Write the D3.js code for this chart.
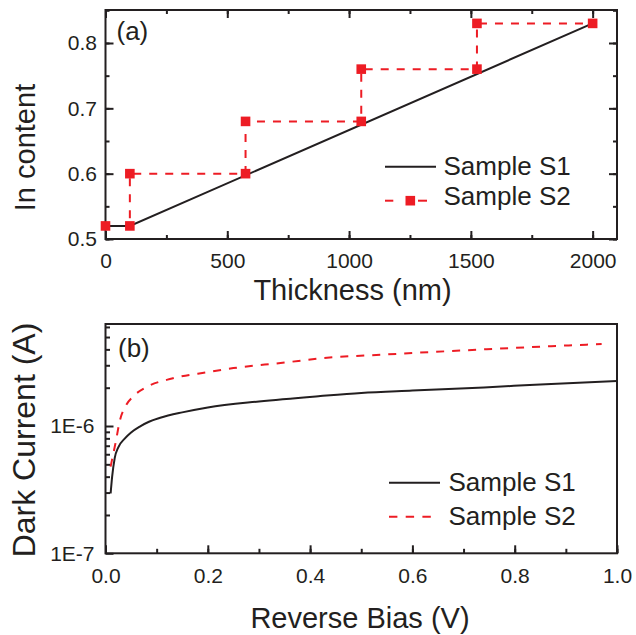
<!DOCTYPE html>
<html>
<head>
<meta charset="utf-8">
<script src="https://cdn.jsdelivr.net/npm/d3@7"></script>
<style>
  html, body { margin: 0; padding: 0; background: #fff; }
  svg { display: block; font-family: "Liberation Sans", Arial, Helvetica, sans-serif; }
</style>
</head>
<body>
<svg id="chart" width="636" height="635"></svg>
<script>
// ---------- Data: panel (a) ----------
const thicknessS1 = [0, 100, 2000];
const contentS1   = [0.52, 0.52, 0.83];
const thicknessS2 = [0, 100, 100, 575, 575, 1050, 1050, 1525, 1525, 2000];
const contentS2   = [0.52, 0.52, 0.60, 0.60, 0.68, 0.68, 0.76, 0.76, 0.83, 0.83];
const thicknessTicks = [0, 500, 1000, 1500, 2000];
const contentTicks = [0.5, 0.6, 0.7, 0.8];

// ---------- Data: panel (b) ----------
const biasS1 = [0.01, 0.013, 0.018, 0.025, 0.038, 0.05, 0.067, 0.085, 0.107, 0.15, 0.2, 0.3, 0.42, 0.5, 0.6, 0.74, 0.85, 1.0];
const currentS1 = [2.95e-7, 4.0e-7, 5.6e-7, 6.8e-7, 8.0e-7, 8.9e-7, 9.9e-7, 1.08e-6, 1.16e-6, 1.28e-6, 1.40e-6, 1.56e-6, 1.72e-6, 1.82e-6, 1.90e-6, 2.01e-6, 2.12e-6, 2.26e-6];
const biasS2 = [0.01, 0.015, 0.02, 0.028, 0.04, 0.055, 0.08, 0.13, 0.2, 0.25, 0.35, 0.42, 0.55, 0.74, 0.85, 0.97];
const currentS2 = [4.8e-7, 6.0e-7, 7.5e-7, 1.1e-6, 1.45e-6, 1.72e-6, 2.02e-6, 2.36e-6, 2.65e-6, 2.85e-6, 3.15e-6, 3.40e-6, 3.65e-6, 4.0e-6, 4.2e-6, 4.41e-6];
const biasTicks = [0, 0.2, 0.4, 0.6, 0.8, 1.0];
const currentTicks = [1e-7, 1e-6];
const currentTickLabels = ["1E-7", "1E-6"];

const seriesNames = ["Sample S1", "Sample S2"];

const BLACK = "#231f20", RED = "#ed1c24";
const TICK_FONT = 21, TITLE_FONT = 29, LEGEND_FONT = 26;

const svg = d3.select("#chart");
svg.append("rect").attr("width", 636).attr("height", 635).attr("fill", "#fff");

// ================= Panel (a) =================
const A = { left: 105.5, right: 617, top: 10, bottom: 239 };
const xA = d3.scaleLinear().domain([0, 2100]).range([A.left, A.right]);
const yA = d3.scaleLinear().domain([0.5, 0.8505]).range([A.bottom, A.top]);

const gA = svg.append("g");

function styleAxis(g) {
  g.select(".domain").remove();
  g.selectAll(".tick line").attr("stroke", BLACK).attr("stroke-width", 2);
  g.selectAll("text").attr("fill", BLACK).attr("font-size", TICK_FONT).attr("font-family", "Liberation Sans, Arial, sans-serif");
}

const minorA_x = d3.range(0, 2101, 250);
const minorA_y = d3.range(0.5, 0.851, 0.05);

// bottom
gA.append("g").attr("transform", `translate(0,${A.bottom})`)
  .call(d3.axisBottom(xA).tickValues(minorA_x).tickSize(-4).tickFormat("")).call(styleAxis);
gA.append("g").attr("transform", `translate(0,${A.bottom})`)
  .call(d3.axisBottom(xA).tickValues(thicknessTicks).tickSize(-8).tickPadding(14).tickFormat(d3.format("d"))).call(styleAxis);
// top
gA.append("g").attr("transform", `translate(0,${A.top})`)
  .call(d3.axisTop(xA).tickValues(minorA_x).tickSize(-4).tickFormat("")).call(styleAxis);
gA.append("g").attr("transform", `translate(0,${A.top})`)
  .call(d3.axisTop(xA).tickValues(thicknessTicks).tickSize(-8).tickFormat("")).call(styleAxis);
// left
gA.append("g").attr("transform", `translate(${A.left},0)`)
  .call(d3.axisLeft(yA).tickValues(minorA_y).tickSize(-4).tickFormat("")).call(styleAxis);
gA.append("g").attr("transform", `translate(${A.left},0)`)
  .call(d3.axisLeft(yA).tickValues(contentTicks).tickSize(-8).tickPadding(8.5).tickFormat(d3.format(".1f"))).call(styleAxis);
// right
gA.append("g").attr("transform", `translate(${A.right},0)`)
  .call(d3.axisRight(yA).tickValues(minorA_y).tickSize(-4).tickFormat("")).call(styleAxis);
gA.append("g").attr("transform", `translate(${A.right},0)`)
  .call(d3.axisRight(yA).tickValues(contentTicks).tickSize(-8).tickFormat("")).call(styleAxis);

// frame
gA.append("rect").attr("x", A.left).attr("y", A.top)
  .attr("width", A.right - A.left).attr("height", A.bottom - A.top)
  .attr("fill", "none").attr("stroke", BLACK).attr("stroke-width", 2);

// lines
const lineA = d3.line().x(d => xA(d[0])).y(d => yA(d[1]));
const s1A = thicknessS1.map((t, i) => [t, contentS1[i]]);
const s2A = thicknessS2.map((t, i) => [t, contentS2[i]]);

gA.append("path").attr("d", lineA(s2A)).attr("fill", "none")
  .attr("stroke", RED).attr("stroke-width", 2).attr("stroke-dasharray", "8,8");
gA.append("path").attr("d", lineA(s1A)).attr("fill", "none")
  .attr("stroke", BLACK).attr("stroke-width", 2);
gA.selectAll("rect.mk").data(s2A).enter().append("rect").attr("class", "mk")
  .attr("x", d => xA(d[0]) - 4.8).attr("y", d => yA(d[1]) - 4.8)
  .attr("width", 9.6).attr("height", 9.6).attr("fill", RED);

// panel label
gA.append("text").attr("x", 116.5).attr("y", 40).attr("font-size", 26).attr("fill", BLACK).text("(a)");

// axis titles
gA.append("text").attr("x", 352.5).attr("y", 300).attr("text-anchor", "middle")
  .attr("font-size", TITLE_FONT).attr("fill", BLACK).text("Thickness (nm)");
gA.append("text").attr("transform", "translate(35,147.5) rotate(-90)").attr("text-anchor", "middle")
  .attr("font-size", TITLE_FONT).attr("fill", BLACK).text("In content");

// legend (a)
gA.append("line").attr("x1", 385).attr("x2", 436).attr("y1", 166.7).attr("y2", 166.7)
  .attr("stroke", BLACK).attr("stroke-width", 2);
gA.append("text").attr("x", 443.5).attr("y", 175).attr("font-size", LEGEND_FONT).attr("fill", BLACK).text(seriesNames[0]);
gA.append("line").attr("x1", 385).attr("x2", 393.3).attr("y1", 200.7).attr("y2", 200.7)
  .attr("stroke", RED).attr("stroke-width", 2);
gA.append("line").attr("x1", 418).attr("x2", 427).attr("y1", 200.7).attr("y2", 200.7)
  .attr("stroke", RED).attr("stroke-width", 2);
gA.append("rect").attr("x", 405.5).attr("y", 195.9).attr("width", 9.6).attr("height", 9.6).attr("fill", RED);
gA.append("text").attr("x", 443.5).attr("y", 205).attr("font-size", LEGEND_FONT).attr("fill", BLACK).text(seriesNames[1]);

// ================= Panel (b) =================
const B = { left: 105.5, right: 617, top: 324, bottom: 553.3 };
const xB = d3.scaleLinear().domain([0, 1]).range([B.left, B.right]);
const yB = d3.scaleLog().domain([1e-7, 6.33e-6]).range([B.bottom, B.top]);

const gB = svg.append("g");

const minorB_x = d3.range(0, 1.0001, 0.1);
const minorB_y = [2e-7, 3e-7, 4e-7, 5e-7, 6e-7, 7e-7, 8e-7, 9e-7, 2e-6, 3e-6, 4e-6, 5e-6, 6e-6];

gB.append("g").attr("transform", `translate(0,${B.bottom})`)
  .call(d3.axisBottom(xB).tickValues(minorB_x).tickSize(-4.5).tickFormat("")).call(styleAxis);
gB.append("g").attr("transform", `translate(0,${B.bottom})`)
  .call(d3.axisBottom(xB).tickValues(biasTicks).tickSize(-8).tickPadding(14.5).tickFormat(d3.format(".1f"))).call(styleAxis);
gB.append("g").attr("transform", `translate(${B.left},0)`)
  .call(d3.axisLeft(yB).tickValues(minorB_y).tickSize(-4.5).tickFormat("")).call(styleAxis);
gB.append("g").attr("transform", `translate(${B.left},0)`)
  .call(d3.axisLeft(yB).tickValues(currentTicks).tickSize(-8).tickPadding(11)
    .tickFormat((d, i) => currentTickLabels[i])).call(styleAxis);

gB.append("rect").attr("x", B.left).attr("y", B.top)
  .attr("width", B.right - B.left).attr("height", B.bottom - B.top)
  .attr("fill", "none").attr("stroke", BLACK).attr("stroke-width", 2);

const lineB = d3.line().x(d => xB(d[0])).y(d => yB(d[1])).curve(d3.curveMonotoneX);
const s1B = biasS1.map((v, i) => [v, currentS1[i]]);
const s2B = biasS2.map((v, i) => [v, currentS2[i]]);

gB.append("path").attr("d", lineB(s2B)).attr("fill", "none")
  .attr("stroke", RED).attr("stroke-width", 2).attr("stroke-dasharray", "8,8");
gB.append("path").attr("d", lineB(s1B)).attr("fill", "none")
  .attr("stroke", BLACK).attr("stroke-width", 2);

gB.append("text").attr("x", 118).attr("y", 356.7).attr("font-size", 26).attr("fill", BLACK).text("(b)");

gB.append("text").attr("x", 360).attr("y", 628).attr("text-anchor", "middle")
  .attr("font-size", TITLE_FONT).attr("fill", BLACK).text("Reverse Bias (V)");
gB.append("text").attr("transform", "translate(35,440) rotate(-90)").attr("text-anchor", "middle")
  .attr("font-size", 32).attr("fill", BLACK).text("Dark Current (A)");

// legend (b)
gB.append("line").attr("x1", 389).attr("x2", 440).attr("y1", 482.7).attr("y2", 482.7)
  .attr("stroke", BLACK).attr("stroke-width", 2);
gB.append("text").attr("x", 448.5).attr("y", 490.7).attr("font-size", LEGEND_FONT).attr("fill", BLACK).text(seriesNames[0]);
gB.append("line").attr("x1", 389).attr("x2", 431).attr("y1", 516.7).attr("y2", 516.7)
  .attr("stroke", RED).attr("stroke-width", 2).attr("stroke-dasharray", "8.4,8.3");
gB.append("text").attr("x", 448.5).attr("y", 525).attr("font-size", LEGEND_FONT).attr("fill", BLACK).text(seriesNames[1]);
</script>
</body>
</html>
